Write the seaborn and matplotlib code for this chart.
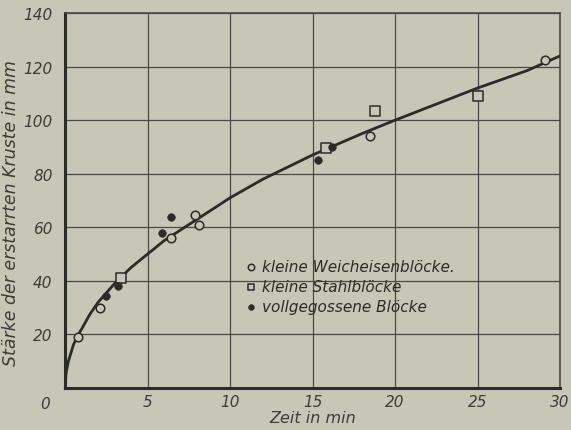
"""
Erstarrung von Blöcken: Krustendicke über Zeit.
"""
import pandas as pd
import seaborn as sns
import matplotlib.pyplot as plt

# Messpunkte
weich_t = [0.8, 2.1, 6.4, 7.9, 8.1, 18.5, 29.1]
weich_s = [19, 30, 56, 64.5, 61, 94, 122.5]

stahl_t = [3.4, 15.8, 18.8, 25.0]
stahl_s = [41, 89.5, 103.5, 109]

voll_t = [2.5, 3.2, 5.9, 6.4, 15.3, 16.2]
voll_s = [34.5, 38, 58, 64, 85, 90]

# Ausgleichskurve
kurve_t = [0, 0.05, 0.1, 0.2, 0.35, 0.5, 0.75, 1, 1.5, 2, 2.5, 3, 3.5, 4, 5, 6, 7, 8,
           10, 12, 15, 18, 20, 22.5, 25, 28, 30]
kurve_s = [0, 5, 7, 10, 13, 16, 19.5, 22, 27.5, 32, 35.5, 39, 42, 45, 50, 55, 59, 63,
           71, 78, 87, 95, 100, 106, 112, 118.5, 124]

papier = "#c8c6b7"
tinte = "#2b2b28"

sns.set_theme(style="white")
plt.rcParams['font.family'] = ['DejaVu Sans']

fig = plt.figure(figsize=(5.71, 4.31), dpi=100, facecolor=papier)
ax = fig.add_axes([0.114, 0.0975, 0.867, 0.87])
ax.set_facecolor(papier)

kurve = pd.DataFrame({"t": kurve_t, "s": kurve_s})
sns.lineplot(data=kurve, x="t", y="s", color=tinte, lw=2, ax=ax, zorder=3)

sns.scatterplot(x=weich_t, y=weich_s, marker="o", s=38, facecolor=papier,
                edgecolor=tinte, linewidth=1.1, ax=ax, zorder=4,
                label="kleine Weicheisenblöcke.")
sns.scatterplot(x=stahl_t, y=stahl_s, marker="s", s=42, facecolor=papier,
                edgecolor=tinte, linewidth=1.1, ax=ax, zorder=4,
                label="kleine Stahlblöcke")
sns.scatterplot(x=voll_t, y=voll_s, marker="o", s=30, color=tinte,
                edgecolor=tinte, ax=ax, zorder=4,
                label="vollgegossene Blöcke")

ax.set_xlim(0, 30)
ax.set_ylim(0, 140)
ax.set_xticks([5, 10, 15, 20, 25, 30])
ax.set_yticks([20, 40, 60, 80, 100, 120, 140])
ax.grid(True, color="#4a4a44", lw=0.9)
ax.tick_params(length=0, labelsize=11, colors="#3c3c38")
ax.tick_params(axis="x", pad=4)
ax.tick_params(axis="y", pad=9)
for lab in ax.get_xticklabels() + ax.get_yticklabels():
    lab.set_style("italic")
ax.text(-0.9, -3, "0", ha="right", va="top", fontsize=11,
        style="italic", color="#3c3c38")

for seite in ["left", "bottom"]:
    ax.spines[seite].set_color(tinte)
    ax.spines[seite].set_linewidth(2.2)
for seite in ["right", "top"]:
    ax.spines[seite].set_color("#4a4a44")
    ax.spines[seite].set_linewidth(1.2)

ax.set_xlabel("Zeit in min", fontsize=11.5, style="italic", color="#3c3c38", labelpad=1)
ax.set_ylabel("Stärke der erstarrten Kruste in mm", fontsize=12.5,
              style="italic", color="#3c3c38", labelpad=5)
ax.yaxis.set_label_coords(-0.092, 0.47)

leg = ax.legend(loc="upper left", bbox_to_anchor=(0.345, 0.365), frameon=False,
                fontsize=11, handletextpad=0.2, labelspacing=0.35,
                handlelength=1.0, borderpad=0, markerscale=0.75)
for t in leg.get_texts():
    t.set_style("italic")
    t.set_color("#2b2b28")

fig.savefig("out.png", dpi=100, facecolor=papier)
